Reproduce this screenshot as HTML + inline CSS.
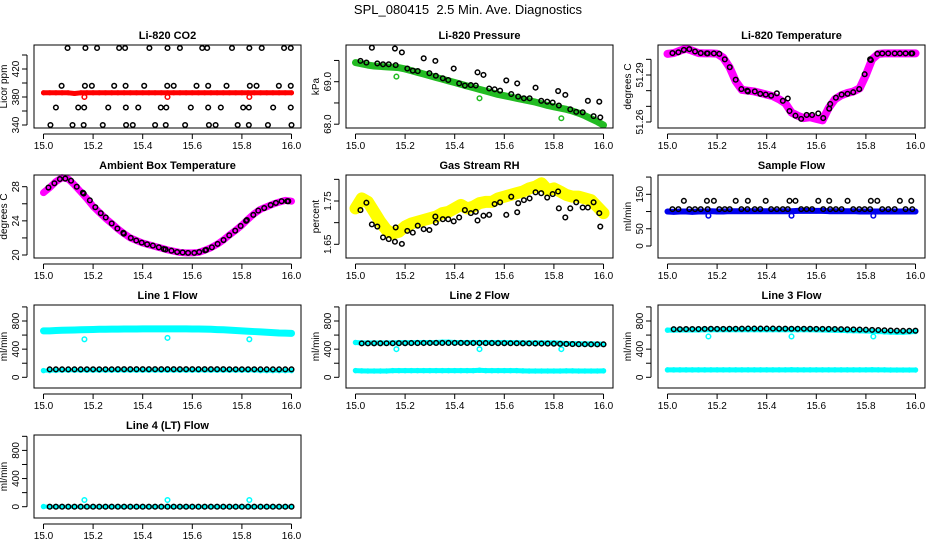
<!DOCTYPE html>
<html><head><meta charset="utf-8"><style>
html,body{margin:0;padding:0;background:#fff;}
svg{display:block;font-family:"Liberation Sans",sans-serif;}
</style></head><body>
<svg id="chart" width="936" height="540" viewBox="0 0 936 540" xmlns="http://www.w3.org/2000/svg">
<rect width="936" height="540" fill="#fff"/>
<text x="468" y="14" text-anchor="middle" font-size="13">SPL_080415&#160; 2.5 Min. Ave. Diagnostics</text>
</svg>
<script>
const gridX = [15.000,15.025,15.050,15.075,15.100,15.125,15.150,15.175,15.200,15.225,15.250,15.275,15.300,15.325,15.350,15.375,15.400,15.425,15.450,15.475,15.500,15.525,15.550,15.575,15.600,15.625,15.650,15.675,15.700,15.725,15.750,15.775,15.800,15.825,15.850,15.875,15.900,15.925,15.950,15.975,16.000];
const flowBlackX = [15.025,15.050,15.075,15.100,15.125,15.150,15.175,15.200,15.225,15.250,15.275,15.300,15.325,15.350,15.375,15.400,15.425,15.450,15.475,15.500,15.525,15.550,15.575,15.600,15.625,15.650,15.675,15.700,15.725,15.750,15.775,15.800,15.825,15.850,15.875,15.900,15.925,15.950,15.975,16.000];
const bx = [15.02,15.044,15.066,15.088,15.111,15.134,15.159,15.162,15.187,15.209,15.231,15.251,15.275,15.298,15.322,15.324,15.352,15.374,15.396,15.418,15.441,15.465,15.485,15.492,15.516,15.539,15.561,15.583,15.608,15.628,15.652,15.656,15.679,15.702,15.726,15.749,15.773,15.795,15.817,15.82,15.846,15.866,15.89,15.916,15.937,15.96,15.983,15.987];
const outX = [15.165,15.5,15.83];
const xTicks = [15.0,15.2,15.4,15.6,15.8,16.0];
const xTickLabels = ["15.0","15.2","15.4","15.6","15.8","16.0"];

// CO2
const co2X = [15.097,15.169,15.216,15.305,15.329,15.427,15.5,15.55,15.64,15.66,15.76,15.83,15.88,15.97,15.997,15.073,15.167,15.195,15.285,15.331,15.406,15.499,15.525,15.617,15.664,15.738,15.832,15.859,15.949,15.997,15.05,15.14,15.164,15.261,15.332,15.382,15.473,15.495,15.594,15.664,15.715,15.805,15.828,15.926,15.997,15.028,15.117,15.162,15.239,15.333,15.36,15.45,15.493,15.571,15.667,15.694,15.783,15.828,15.905,16.0];
const co2Y = [450,450,450,450,450,450,450,450,450,450,450,450,450,450,450,396,396,396,396,396,396,396,396,396,396,396,396,396,396,396,365,365,365,365,365,365,365,365,365,365,365,365,365,365,365,340,340,340,340,340,340,340,340,340,340,340,340,340,340,340];
const co2Red = [386,386,386,386,386,385,386,386,386,386,386,386,386,386,386,386,386,386,386,386,386,386,386,386,386,386,386,386,386,386,386,386,386,386,386,386,386,386,386,386,386];
const co2RedOut = [380,380,380];
// Pressure
const presGreen = [69.45,69.42,69.39,69.37,69.36,69.35,69.34,69.33,69.30,69.26,69.22,69.18,69.14,69.10,69.06,69.02,68.98,68.94,68.90,68.86,68.82,68.78,68.74,68.70,68.67,68.64,68.61,68.58,68.55,68.52,68.48,68.44,68.41,68.38,68.35,68.31,68.26,68.20,68.13,68.06,67.98];
const presBlack = [69.49,69.45,69.80,69.43,69.41,69.41,69.78,69.39,69.69,69.31,69.26,69.25,69.55,69.20,69.49,69.14,69.08,69.04,69.31,68.96,68.91,68.92,68.91,69.22,69.16,68.84,68.82,68.79,69.03,68.71,68.96,68.65,68.61,68.61,68.86,68.55,68.53,68.51,68.78,68.44,68.69,68.35,68.29,68.28,68.55,68.19,68.53,68.16];
const presOut = [69.12,68.61,68.14];
// Li-820 temperature
const tempMag = [51.3035,51.3040,51.3055,51.3068,51.3055,51.3040,51.3038,51.3038,51.3036,51.3010,51.2950,51.2860,51.2805,51.2800,51.2795,51.2785,51.2775,51.2765,51.2745,51.2720,51.2660,51.2640,51.2625,51.2630,51.2620,51.2610,51.2690,51.2745,51.2770,51.2785,51.2795,51.2815,51.2900,51.3000,51.3035,51.3038,51.3038,51.3038,51.3038,51.3038,51.3038];
const tempBlack = [51.304,51.3045,51.306,51.3065,51.305,51.304,51.3038,51.3038,51.3038,51.3035,51.3,51.295,51.287,51.281,51.280,51.2795,51.2795,51.278,51.2775,51.2768,51.2783,51.2735,51.275,51.267,51.264,51.262,51.2645,51.2645,51.2655,51.2625,51.2685,51.2715,51.2755,51.2775,51.278,51.279,51.281,51.2905,51.300,51.2995,51.3035,51.3038,51.3038,51.3038,51.3038,51.3038,51.3038,51.3038];
// Ambient
const ambMag = [27.3,27.9,28.6,29.06,28.9,28.2,27.4,26.6,25.7,25.0,24.3,23.7,23.05,22.5,22.0,21.7,21.4,21.2,21.0,20.8,20.6,20.45,20.3,20.25,20.25,20.3,20.55,20.85,21.25,21.75,22.35,22.9,23.5,24.2,24.85,25.35,25.65,25.95,26.2,26.4,26.3];
const ambBlack = [27.9,28.4,28.9,28.95,28.7,28.0,27.3,27.2,26.4,25.6,24.9,24.4,23.7,23.1,22.6,22.5,22.0,21.7,21.45,21.25,21.1,20.9,20.7,20.65,20.5,20.35,20.3,20.25,20.25,20.35,20.55,20.6,20.9,21.3,21.75,22.3,22.85,23.4,24.0,24.1,24.7,25.2,25.5,25.85,26.1,26.3,26.3,26.3];
// RH
const rhYellow = [1.733,1.756,1.748,1.725,1.702,1.683,1.675,1.679,1.691,1.698,1.702,1.706,1.71,1.714,1.722,1.725,1.733,1.741,1.733,1.737,1.745,1.748,1.748,1.756,1.76,1.764,1.768,1.772,1.779,1.783,1.791,1.775,1.779,1.772,1.764,1.76,1.76,1.756,1.752,1.737,1.722];
const rhBlack = [1.729,1.746,1.696,1.691,1.666,1.662,1.656,1.689,1.651,1.681,1.677,1.693,1.685,1.683,1.714,1.70,1.708,1.708,1.703,1.712,1.729,1.722,1.725,1.705,1.716,1.718,1.743,1.747,1.718,1.76,1.724,1.745,1.752,1.756,1.77,1.768,1.758,1.766,1.772,1.733,1.712,1.733,1.747,1.735,1.735,1.747,1.722,1.691];
// Sample flow
const sfBlue = [100,99,100,100,99,100,100,101,100,100,101,101,101,101,101,101,101,101,101,101,101,102,102,102,102,102,101,101,101,101,101,100,100,100,100,100,100,100,100,100,100];
const sfBlack = [107,107,131,107,107,107,131,107,131,107,107,107,131,107,107,131,107,107,131,107,107,107,107,131,131,107,107,107,131,107,131,107,107,107,131,107,107,107,107,131,131,107,107,107,131,107,131,107];
const sfOut = [88,88,88];
// Line flows
const l1Upper = [660,660,665,668,670,672,675,678,680,682,683,684,685,686,686,687,688,688,688,688,688,688,688,688,687,686,684,682,678,675,670,665,660,655,650,645,640,635,630,628,625];
const l1Lower = [95,95,98,100,100,100,100,100,100,100,100,100,100,100,100,100,100,100,100,100,100,100,100,100,100,100,100,100,100,100,100,100,100,100,100,95,95,95,95,95,95];
const l1Black = [113,113,113,113,113,113,114,114,114,114,114,115,115,115,115,115,115,115,115,115,115,115,115,115,115,115,115,115,115,114,114,114,114,114,113,113,113,113,113,113];
const l1Out = [540,560,540];
const l2Upper = [495,490,490,490,490,490,490,492,492,492,495,495,495,495,500,500,495,495,495,495,495,495,495,495,495,492,492,490,490,490,490,490,490,485,480,478,476,475,475,474,472];
const l2Lower = [95,92,90,90,90,90,95,95,95,95,95,95,95,95,95,95,95,95,95,95,100,95,95,95,95,95,95,92,90,90,90,90,90,90,92,92,90,90,90,90,92];
const l2Black = [482,482,483,483,484,484,485,485,486,486,487,487,488,488,488,488,488,487,487,487,486,486,485,485,484,484,483,482,481,480,479,478,476,474,472,470,470,468,468,468];
const l2Out = [400,400,400];
const l3Upper = [670,670,672,672,672,672,675,675,675,675,675,676,676,676,676,676,676,676,676,676,676,675,675,675,674,672,670,668,666,664,662,660,658,655,650,645,642,640,640,645,650];
const l3Lower = [105,105,105,105,105,105,105,106,106,106,106,106,106,106,106,106,106,106,106,106,108,106,106,106,106,106,106,106,106,106,106,106,106,108,106,106,104,104,104,104,104];
const l3Black = [683,684,685,686,686,688,690,688,688,689,690,691,692,692,692,692,692,691,691,690,690,690,689,688,688,687,686,684,682,680,678,676,674,672,668,665,662,660,660,662];
const l3Out = [580,580,580];
const l4Cyan = [2,0,0,0,0,0,0,0,0,0,0,0,0,0,0,0,0,0,0,0,0,0,0,0,0,0,0,0,0,0,0,0,0,0,0,0,0,0,0,0,0];
const l4Black = [0,0,0,0,0,0,0,0,0,0,0,0,0,0,0,0,0,0,0,0,0,0,0,0,0,0,0,0,0,0,0,0,0,0,0,0,0,0,0,0];
const l4Out = [95,95,95];

const NS = "http://www.w3.org/2000/svg";
const svg = document.getElementById("chart");
function mk(tag, attrs, parent){
  const e = document.createElementNS(NS, tag);
  for (const k in attrs) e.setAttribute(k, attrs[k]);
  parent.appendChild(e);
  return e;
}
const colLeft = [34, 346, 658];
const rowTop = [45, 175, 305, 435];
const BW = 267, BH = 83;

function pts(g, X, Y, xs, ys, color, r, sw, name, band){
  const sub = mk("g", {}, g);
  
  
  if (band){
    const d = Y.map((v, i) => (i ? "L" : "M") + xs(X[i]).toFixed(2) + "," + ys(v).toFixed(2)).join(" ");
    const pth = mk("path", {d: d, fill: "none", stroke: color, "stroke-width": band, "stroke-linecap": "round", "stroke-linejoin": "round"}, sub);
    
    
  }
  for (let i = 0; i < Y.length; i++){
    const c = mk("circle", {cx: xs(X[i]).toFixed(2), cy: ys(Y[i]).toFixed(2), r: r, fill: "none", stroke: color, "stroke-width": sw}, sub);
    
    
  }
}

function panel(p){
  const left = colLeft[p.col], top = rowTop[p.row];
  const g = mk("g", {}, svg);
  
  
  const xs = v => left + 9.5 + (v - 15) * 248;
  const ys = v => top + p.o0 + (v - p.v0) * (p.o1 - p.o0) / (p.v1 - p.v0);
  const t = mk("text", {x: left + BW/2, y: top - 6, "text-anchor": "middle", "font-size": 11, "font-weight": "bold"}, g);
  t.textContent = p.title;
  
  
  p.series.forEach(s => pts(g, s.x, s.y, xs, ys, s.c, s.r || 2.3, s.sw || 1.5, s.n, s.b || 0));
  const box = mk("rect", {x: left, y: top, width: BW, height: BH, fill: "none", stroke: "#000", "stroke-width": 1}, g);
  
  
  const xa = mk("g", {}, g);
  
  
  mk("line", {x1: xs(15), x2: xs(16), y1: top + BH + 6, y2: top + BH + 6, stroke: "#000"}, xa);
  xTicks.forEach((v, i) => {
    mk("line", {x1: xs(v), x2: xs(v), y1: top + BH + 6, y2: top + BH + 11, stroke: "#000"}, xa);
    const tl = mk("text", {x: xs(v), y: top + BH + 21, "text-anchor": "middle", "font-size": 10}, xa);
    tl.textContent = xTickLabels[i];
    
    
  });
  const ya = mk("g", {}, g);
  
  
  const yt = p.ticks;
  mk("line", {x1: left - 7, x2: left - 7, y1: ys(yt[0]), y2: ys(yt[yt.length - 1]), stroke: "#000"}, ya);
  yt.forEach(v => mk("line", {x1: left - 12, x2: left - 7, y1: ys(v), y2: ys(v), stroke: "#000"}, ya));
  p.labels.forEach((lab, i) => {
    const yy = ys(p.labelVals[i]);
    const tl = mk("text", {x: left - 15, y: yy, "text-anchor": "middle", "font-size": 10, transform: `rotate(-90 ${left - 15} ${yy})`}, ya);
    tl.textContent = lab;
    
    
  });
  const cy = top + BH/2;
  const yl = mk("text", {x: left - 27, y: cy, "text-anchor": "middle", "font-size": 10, transform: `rotate(-90 ${left - 27} ${cy})`}, ya);
  yl.textContent = p.ylab;
  
  
}

const flowTicks = [0,200,400,600,800,1000];
panel({name:"co2-panel", title:"Li-820 CO2", col:0, row:0, v0:340, o0:80, v1:420, o1:24, ylab:"Licor ppm",
  ticks:[340,360,380,400,420,440], labels:["340","380","420"], labelVals:[340,380,420],
  series:[{x:co2X, y:co2Y, c:"#000", n:"co2-average"},{x:gridX, y:co2Red, c:"#ff0000", n:"co2-raw", r:1.8, sw:1.5, b:5},{x:outX, y:co2RedOut, c:"#ff0000", n:"co2-outlier"}]});
panel({name:"pressure-panel", title:"Li-820 Pressure", col:1, row:0, v0:69.0, o0:36.7, v1:68.0, o1:79.2, ylab:"kPa",
  ticks:[68.0,68.5,69.0,69.5], labels:["68.0","69.0"], labelVals:[68.0,69.0],
  series:[{x:gridX, y:presGreen, c:"#22bb22", n:"pressure-raw", r:2, sw:1.5, b:7},{x:outX, y:presOut, c:"#22bb22", n:"pressure-outlier"},{x:bx, y:presBlack, c:"#000", n:"pressure-average"}]});
panel({name:"li820-temperature-panel", title:"Li-820 Temperature", col:2, row:0, v0:51.29, o0:30, v1:51.26, o1:77, ylab:"degrees C",
  ticks:[51.26,51.27,51.28,51.29,51.30], labels:["51.26","51.29"], labelVals:[51.26,51.29],
  series:[{x:gridX, y:tempMag, c:"#ff00ff", n:"li820-temp-raw", r:2, sw:1.5, b:8},{x:bx, y:tempBlack, c:"#000", n:"li820-temp-average"}]});
panel({name:"ambient-temperature-panel", title:"Ambient Box Temperature", col:0, row:1, v0:28, o0:11.7, v1:20, o1:80, ylab:"degrees C",
  ticks:[20,22,24,26,28], labels:["20","24","28"], labelVals:[20,24,28],
  series:[{x:gridX, y:ambMag, c:"#ff00ff", n:"ambient-temp-raw", r:2, sw:1.5, b:7},{x:bx, y:ambBlack, c:"#000", n:"ambient-temp-average"}]});
panel({name:"rh-panel", title:"Gas Stream RH", col:1, row:1, v0:1.75, o0:26, v1:1.65, o1:69.3, ylab:"percent",
  ticks:[1.65,1.70,1.75,1.80], labels:["1.65","1.75"], labelVals:[1.65,1.75],
  series:[{x:gridX, y:rhYellow, c:"#ffff00", n:"rh-raw", r:2.4, sw:1.5, b:12},{x:bx, y:rhBlack, c:"#000", n:"rh-average"}]});
panel({name:"sample-flow-panel", title:"Sample Flow", col:2, row:1, v0:0, o0:71, v1:150, o1:19.3, ylab:"ml/min",
  ticks:[0,50,100,150,200], labels:["0","50","150"], labelVals:[0,50,150],
  series:[{x:gridX, y:sfBlue, c:"#0000ee", n:"sample-flow-raw", r:2, sw:1.5, b:6},{x:outX, y:sfOut, c:"#0000ee", n:"sample-flow-outlier"},{x:bx, y:sfBlack, c:"#000", n:"sample-flow-average"}]});
panel({name:"line1-flow-panel", title:"Line 1 Flow", col:0, row:2, v0:0, o0:72.3, v1:800, o1:16, ylab:"ml/min",
  ticks:flowTicks, labels:["0","400","800"], labelVals:[0,400,800],
  series:[{x:gridX, y:l1Upper, c:"#00ffff", n:"line1-upper-raw", r:2, sw:1.5, b:7},{x:gridX, y:l1Lower, c:"#00ffff", n:"line1-lower-raw", r:2, sw:1.5, b:4},{x:outX, y:l1Out, c:"#00ffff", n:"line1-outlier"},{x:flowBlackX, y:l1Black, c:"#000", n:"line1-average"}]});
panel({name:"line2-flow-panel", title:"Line 2 Flow", col:1, row:2, v0:0, o0:72.3, v1:800, o1:16, ylab:"ml/min",
  ticks:flowTicks, labels:["0","400","800"], labelVals:[0,400,800],
  series:[{x:gridX, y:l2Upper, c:"#00ffff", n:"line2-upper-raw", r:2, sw:1.5, b:5},{x:gridX, y:l2Lower, c:"#00ffff", n:"line2-lower-raw", r:2, sw:1.5, b:5},{x:outX, y:l2Out, c:"#00ffff", n:"line2-outlier"},{x:flowBlackX, y:l2Black, c:"#000", n:"line2-average"}]});
panel({name:"line3-flow-panel", title:"Line 3 Flow", col:2, row:2, v0:0, o0:72.3, v1:800, o1:16, ylab:"ml/min",
  ticks:flowTicks, labels:["0","400","800"], labelVals:[0,400,800],
  series:[{x:gridX, y:l3Upper, c:"#00ffff", n:"line3-upper-raw", r:2, sw:1.5, b:5},{x:gridX, y:l3Lower, c:"#00ffff", n:"line3-lower-raw", r:2, sw:1.5, b:5},{x:outX, y:l3Out, c:"#00ffff", n:"line3-outlier"},{x:flowBlackX, y:l3Black, c:"#000", n:"line3-average"}]});
panel({name:"line4-flow-panel", title:"Line 4 (LT) Flow", col:0, row:3, v0:0, o0:71.7, v1:800, o1:15.4, ylab:"ml/min",
  ticks:flowTicks, labels:["0","400","800"], labelVals:[0,400,800],
  series:[{x:gridX, y:l4Cyan, c:"#00ffff", n:"line4-raw", r:2, sw:1.5, b:4},{x:outX, y:l4Out, c:"#00ffff", n:"line4-outlier"},{x:flowBlackX, y:l4Black, c:"#000", n:"line4-average"}]});
</script>
</body></html>
